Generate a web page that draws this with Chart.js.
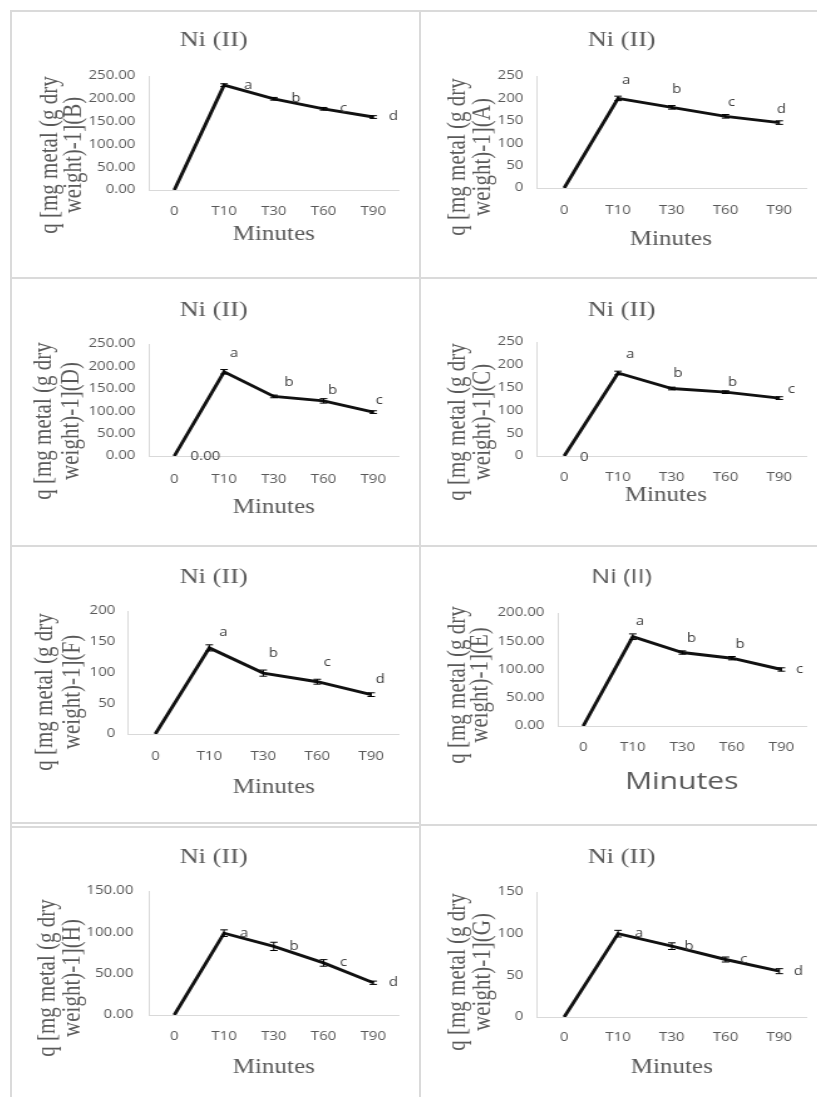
<!DOCTYPE html>
<html>
<head>
<meta charset="utf-8">
<script src="https://cdn.jsdelivr.net/npm/chart.js@4.4.0/dist/chart.umd.min.js"></script>
<style>
  html, body { margin: 0; padding: 0; background: #fff; }
  body { width: 817px; height: 1097px; position: relative; overflow: hidden; }
  .rule { position: absolute; background: #dadada; }
  .cell { position: absolute; transform-origin: 0 0; transform: scaleX(1.25); }
  .cell canvas { display: block; }
</style>
</head>
<body>
<script>
// ----------------------
// data
// ----------------------
const categories = ['0', 'T10', 'T30', 'T60', 'T90'];

const qB = [0, 230, 200, 178, 160];
const errB = [0, 3, 3, 3, 3];
const lettersB = ['', 'a', 'b', 'c', 'd'];

const qA = [0, 200, 180, 160, 146];
const errA = [0, 5, 4, 4, 4];
const lettersA = ['', 'a', 'b', 'c', 'd'];

const qD = [0, 188, 133, 123, 98];
const errD = [0, 5, 3, 5, 3];
const lettersD = ['0.00', 'a', 'b', 'b', 'c'];

const qC = [0, 182, 148, 140, 127];
const errC = [0, 4, 3, 3, 3];
const lettersC = ['0', 'a', 'b', 'b', 'c'];

const qF = [0, 140, 99, 85, 64];
const errF = [0, 5, 5, 4, 3];
const lettersF = ['', 'a', 'b', 'c', 'd'];

const qE = [0, 158, 130, 120, 100];
const errE = [0, 5, 3, 3, 3];
const lettersE = ['', 'a', 'b', 'b', 'c'];

const qH = [0, 99, 83, 63, 39];
const errH = [0, 4, 5, 4, 2];
const lettersH = ['', 'a', 'b', 'c', 'd'];

const qG = [0, 100, 85, 69, 55];
const errG = [0, 4, 4, 3, 3];
const lettersG = ['', 'a', 'b', 'c', 'd'];

const chartTitle = 'Ni (II)';
const xAxisTitle = 'Minutes';
const yTitleLine1 = 'q [mg metal (g dry';
const yTitleLine2 = suffix => 'weight)-1](' + suffix + ')';

// ----------------------
// layout of the eight panels (page pixels)
// ----------------------
const STRETCH = 1.25;   // the source picture is widened horizontally
const YW = 50, XH = 30;
const SERIF = '"Liberation Serif", "Times New Roman", serif';
const SANS = '"Open Sans", sans-serif';

const right8 = [[20, 0], [20, 0], [20, 0], [20, 0], [20, 0]];

const panels = [
  { id: 'B', cell: [12, 12, 406, 265], plot: [149, 76, 397, 190], yMax: 250, dec: 2,
    values: qB, errors: errB, letters: lettersB, letterOff: [[0, 0], [24, 0], [22, 0], [20, 0], [20, 0]],
    title: [213, 40], xTitle: [273, 235], yTitle: [50, 74, 155], tickGap: 14, xTickY: 212 },
  { id: 'A', cell: [421, 12, 396, 265], plot: [537, 76, 805, 188], yMax: 250, dec: 0,
    values: qA, errors: errA, letters: lettersA, letterOff: [[0, 0], [8, -18], [5, -18], [6, -14], [2, -13]],
    title: [621, 40], xTitle: [670, 240], yTitle: [458, 483, 157], tickGap: 14, xTickY: 211 },
  { id: 'D', cell: [12, 280, 406, 265], plot: [149, 344, 397, 456], yMax: 250, dec: 2,
    values: qD, errors: errD, letters: lettersD, letterOff: [[31, 1], [10, -18], [15, -14], [9, -10], [6, -12]],
    title: [213, 310], xTitle: [273, 508], yTitle: [44, 71, 421], tickGap: 14, xTickY: 480 },
  { id: 'C', cell: [421, 280, 396, 265], plot: [537, 342, 805, 456], yMax: 250, dec: 0,
    values: qC, errors: errC, letters: lettersC, letterOff: [[20, 2], [12, -18], [6, -15], [7, -10], [12, -9]],
    title: [621, 310], xTitle: [665, 496], yTitle: [458, 483, 422], tickGap: 14, xTickY: 478 },
  { id: 'F', cell: [12, 548, 406, 274], plot: [128, 611, 397, 734], yMax: 200, dec: 0,
    values: qF, errors: errF, letters: lettersF, letterOff: [[0, 0], [14, -15], [10, -20], [10, -19], [9, -15]],
    title: [213, 577], xTitle: [273, 788], yTitle: [45, 73, 692], tickGap: 13, xTickY: 757 },
  { id: 'E', cell: [421, 548, 396, 274], plot: [558, 613, 805, 726], yMax: 200, dec: 2,
    values: qE, errors: errE, letters: lettersE, letterOff: [[0, 0], [7, -15], [9, -14], [8, -14], [18, 0]],
    title: [621, 577], xTitle: [681, 782], yTitle: [458, 480, 685], tickGap: 14, xTickY: 748,
    titleFont: '20px ' + SANS, xTitleFont: '24px ' + SANS },
  { id: 'H', cell: [12, 828, 406, 269], plot: [149, 891, 397, 1015], yMax: 150, dec: 2,
    values: qH, errors: errH, letters: lettersH, letterOff: right8,
    title: [213, 857], xTitle: [273, 1068], yTitle: [47, 72, 978], tickGap: 16, xTickY: 1037 },
  { id: 'G', cell: [421, 828, 396, 269], plot: [537, 892, 805, 1017], yMax: 150, dec: 0,
    values: qG, errors: errG, letters: lettersG, letterOff: [[0, 0], [21, 0], [17, 0], [18, 0], [19, 0]],
    title: [621, 857], xTitle: [671, 1068], yTitle: [458, 483, 972], tickGap: 14, xTickY: 1038 }
];

// ----------------------
// table rules between the panels
// ----------------------
function rule(x, y, w, h) {
  const d = document.createElement('div');
  d.className = 'rule';
  d.style.left = x + 'px'; d.style.top = y + 'px';
  d.style.width = w + 'px'; d.style.height = h + 'px';
  document.body.appendChild(d);
}
rule(10, 10, 807, 2);
rule(10, 10, 2, 1087);
rule(419, 10, 2, 1087);
rule(10, 277, 807, 2);
rule(10, 545, 807, 2);
rule(10, 822, 409, 1.5);
rule(10, 826, 409, 1.5);
rule(419, 824, 398, 2);

// ----------------------
// drawing helpers
// ----------------------
function makeDecor(p) {
  const cx = x => (x - p.cell[0]) / STRETCH;
  const cy = y => y - p.cell[1];
  return {
    id: 'decor' + p.id,
    afterDatasetsDraw(chart) {
      const ctx = chart.ctx, xs = chart.scales.x, ys = chart.scales.y;
      ctx.save();
      // error bars
      ctx.strokeStyle = '#000';
      ctx.lineWidth = 1;
      p.values.forEach((v, i) => {
        const e = p.errors[i];
        if (!e) return;
        const x = xs.getPixelForValue(i);
        const y1 = ys.getPixelForValue(v + e), y2 = ys.getPixelForValue(v - e);
        ctx.beginPath();
        ctx.moveTo(x, y1); ctx.lineTo(x, y2);
        ctx.moveTo(x - 3, y1); ctx.lineTo(x + 3, y1);
        ctx.moveTo(x - 3, y2); ctx.lineTo(x + 3, y2);
        ctx.stroke();
      });
      // significance letters
      ctx.fillStyle = '#404040';
      ctx.font = '12px ' + SANS;
      ctx.textAlign = 'center';
      ctx.textBaseline = 'middle';
      p.letters.forEach((t, i) => {
        if (!t) return;
        const off = p.letterOff[i];
        ctx.fillText(t, xs.getPixelForValue(i) + off[0] / STRETCH, ys.getPixelForValue(p.values[i]) + off[1]);
      });
      // titles
      ctx.fillStyle = '#595959';
      ctx.font = p.titleFont || ('21px ' + SERIF);
      ctx.fillText(chartTitle, cx(p.title[0]), cy(p.title[1]));
      ctx.font = p.xTitleFont || ('20px ' + SERIF);
      ctx.fillText(xAxisTitle, cx(p.xTitle[0]), cy(p.xTitle[1]));
      ctx.font = '21px ' + SERIF;
      [[yTitleLine1, p.yTitle[0]], [yTitleLine2(p.id), p.yTitle[1]]].forEach(([txt, x]) => {
        ctx.save();
        ctx.translate(cx(x), cy(p.yTitle[2]));
        ctx.rotate(-Math.PI / 2);
        ctx.fillText(txt, 0, 0);
        ctx.restore();
      });
      ctx.restore();
    }
  };
}

function buildPanel(p) {
  const [x0, y0, w, h] = p.cell;
  const wi = w / STRETCH;
  const wrap = document.createElement('div');
  wrap.className = 'cell';
  wrap.style.left = x0 + 'px';
  wrap.style.top = y0 + 'px';
  wrap.style.width = wi + 'px';
  wrap.style.height = h + 'px';
  const canvas = document.createElement('canvas');
  wrap.appendChild(canvas);
  document.body.appendChild(wrap);

  const l = (p.plot[0] - x0) / STRETCH, r = (p.plot[2] - x0) / STRETCH;
  const t = p.plot[1] - y0, b = p.plot[3] - y0;
  const axisLine = { display: true, color: '#d9d9d9', width: 1 };
  const tickFont = { family: SANS, size: 12 };

  return new Chart(canvas, {
    type: 'line',
    data: {
      labels: categories,
      datasets: [{
        data: p.values,
        borderColor: '#111',
        borderWidth: 2.9,
        pointRadius: 0,
        tension: 0,
        fill: false
      }]
    },
    options: {
      responsive: true,
      maintainAspectRatio: false,
      animation: false,
      devicePixelRatio: 1,
      layout: { padding: { left: l - YW, right: wi - r, top: t, bottom: h - b - XH } },
      plugins: { legend: { display: false }, tooltip: { enabled: false }, title: { display: false } },
      scales: {
        x: {
          type: 'category',
          offset: true,
          grid: { display: false, drawTicks: false },
          border: axisLine,
          ticks: { color: '#595959', font: tickFont, padding: p.xTickY - p.plot[3] - 7.2, maxRotation: 0, autoSkip: false },
          afterFit: s => { s.height = XH; }
        },
        y: {
          min: 0,
          max: p.yMax,
          grid: { display: false, drawTicks: false },
          border: axisLine,
          ticks: { stepSize: 50, color: '#595959', font: tickFont, padding: p.tickGap / STRETCH,
                   callback: v => Number(v).toFixed(p.dec) },
          afterFit: s => { s.width = YW; }
        }
      }
    },
    plugins: [makeDecor(p)]
  });
}

panels.forEach(buildPanel);
</script>
</body>
</html>
